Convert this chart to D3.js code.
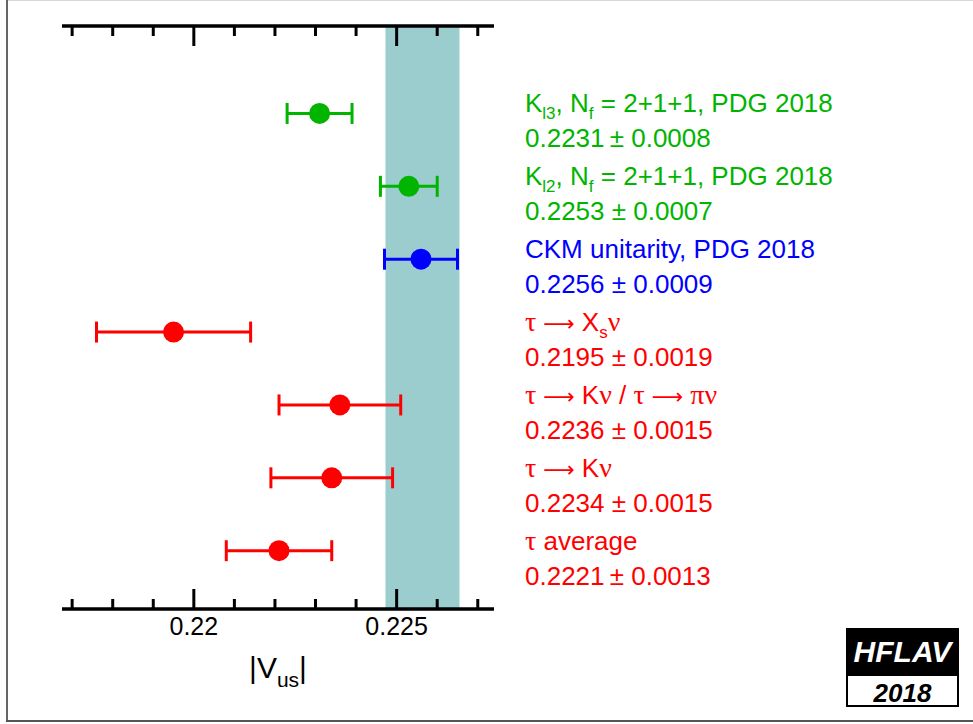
<!DOCTYPE html>
<html>
<head>
  <meta charset="utf-8">
  <script src="https://cdn.jsdelivr.net/npm/d3@7"></script>
  <style>
    body, html {
      margin: 0;
      padding: 0;
      background: white;
      overflow: hidden;
    }
    svg text {
      font-family: 'Liberation Sans', Arial, sans-serif;
    }
    .greek {
      font-family: 'Liberation Serif', 'Times New Roman', serif;
    }
    .arrow {
      font-family: 'DejaVu Sans', sans-serif;
    }
  </style>
</head>
<body>
  <svg id="chart" width="973" height="724"></svg>
  <script>
    // measurements, listed top to bottom
    const names = ["Kl3", "Kl2", "CKM", "tauXs", "tauKpi", "tauK", "tauAvg"];
    const values = [0.2231, 0.2253, 0.2256, 0.2195, 0.2236, 0.2234, 0.2221];
    const errors = [0.0008, 0.0007, 0.0009, 0.0019, 0.0015, 0.0015, 0.0013];
    const colors = ["#00b400", "#00b400", "#0000ff", "#ff0000", "#ff0000", "#ff0000", "#ff0000"];
    const valueText = [
      "0.2231\u2009\u00b1 0.0008",
      "0.2253 \u00b1 0.0007",
      "0.2256 \u00b1 0.0009",
      "0.2195 \u00b1 0.0019",
      "0.2236 \u00b1 0.0015",
      "0.2234 \u00b1 0.0015",
      "0.2221\u2009\u00b1 0.0013"
    ];
    // label pieces: [text, style] where style is "", "sub", "greek" or "arrow"
    const labelParts = [
      [["K", ""], ["l3", "sub"], [", N", ""], ["f", "sub"], [" = 2+1+1, PDG 2018", ""]],
      [["K", ""], ["l2", "sub"], [", N", ""], ["f", "sub"], [" = 2+1+1, PDG 2018", ""]],
      [["CKM unitarity, PDG 2018", ""]],
      [["\u03c4", "greek"], [" \u27f6 ", "arrow"], ["X", ""], ["s", "sub"], ["\u03bd", "greek"]],
      [["\u03c4", "greek"], [" \u27f6 ", "arrow"], ["K", ""], ["\u03bd", "greek"], [" / ", ""],
       ["\u03c4", "greek"], [" \u27f6 ", "arrow"], ["\u03c0\u03bd", "greek"]],
      [["\u03c4", "greek"], [" \u27f6 ", "arrow"], ["K", ""], ["\u03bd", "greek"]],
      [["\u03c4", "greek"], [" average", ""]]
    ];
    // reference band (CKM unitarity)
    const bandCenter = 0.2256;
    const bandError = 0.0009;
    const majorTicks = [0.22, 0.225];
    const minorTicks = d3.range(0.217, 0.2275, 0.001);

    const svg = d3.select("#chart");

    // frame
    svg.append("line").attr("x1", 8).attr("x2", 973).attr("y1", 0.5).attr("y2", 0.5)
      .attr("stroke", "#d8d8d8").attr("stroke-width", 1);
    svg.append("line").attr("x1", 7).attr("x2", 7).attr("y1", 0).attr("y2", 722)
      .attr("stroke", "#666").attr("stroke-width", 2);
    svg.append("line").attr("x1", 6).attr("x2", 973).attr("y1", 721).attr("y2", 721)
      .attr("stroke", "#555").attr("stroke-width", 2);

    const x = d3.scaleLinear().domain([0.21675, 0.2274]).range([62, 494]);
    const yTop = 26, yBottom = 609;
    const y = d3.scaleLinear().domain([7.2, -0.8]).range([yTop, yBottom]);
    const rowY = i => y(names.length - 1 - i);

    // band
    svg.append("rect")
      .attr("x", x(bandCenter - bandError) + 1)
      .attr("y", yTop)
      .attr("width", x(bandCenter + bandError) - x(bandCenter - bandError) + 1)
      .attr("height", yBottom - yTop)
      .attr("fill", "#9bcdcf");

    // axes (top and bottom)
    function drawAxis(yPos, dir) {
      const g = svg.append("g");
      g.append("line").attr("x1", x.range()[0]).attr("x2", x.range()[1])
        .attr("y1", yPos).attr("y2", yPos)
        .attr("stroke", "black").attr("stroke-width", 3.5);
      g.selectAll(".minor").data(minorTicks.filter(t => !majorTicks.some(m => Math.abs(m - t) < 1e-7)))
        .join("line")
        .attr("x1", d => x(d)).attr("x2", d => x(d))
        .attr("y1", yPos).attr("y2", yPos + dir * 10)
        .attr("stroke", "black").attr("stroke-width", 3);
      g.selectAll(".major").data(majorTicks)
        .join("line")
        .attr("x1", d => x(d)).attr("x2", d => x(d))
        .attr("y1", yPos).attr("y2", yPos + dir * 20)
        .attr("stroke", "black").attr("stroke-width", 3);
    }
    drawAxis(yTop, 1);
    drawAxis(yBottom, -1);

    svg.selectAll(".ticklabel").data(majorTicks)
      .join("text")
      .attr("x", d => x(d)).attr("y", 635)
      .attr("text-anchor", "middle")
      .attr("font-size", 25)
      .text(d => d3.format("")(d));

    const xt = svg.append("text").attr("x", 278).attr("y", 678)
      .attr("text-anchor", "middle").attr("font-size", 30);
    xt.append("tspan").text("|V");
    xt.append("tspan").attr("dy", 9).attr("font-size", 21).text("us");
    xt.append("tspan").attr("dy", -9).text("|");

    // error bars
    const pts = svg.selectAll(".pt").data(values)
      .join("g")
      .attr("transform", (d, i) => `translate(0, ${rowY(i)})`);
    pts.append("line")
      .attr("x1", (d, i) => x(d - errors[i])).attr("x2", (d, i) => x(d + errors[i]))
      .attr("stroke", (d, i) => colors[i]).attr("stroke-width", 3);
    pts.append("line")
      .attr("x1", (d, i) => x(d - errors[i])).attr("x2", (d, i) => x(d - errors[i]))
      .attr("y1", -10.5).attr("y2", 10.5)
      .attr("stroke", (d, i) => colors[i]).attr("stroke-width", 3);
    pts.append("line")
      .attr("x1", (d, i) => x(d + errors[i])).attr("x2", (d, i) => x(d + errors[i]))
      .attr("y1", -10.5).attr("y2", 10.5)
      .attr("stroke", (d, i) => colors[i]).attr("stroke-width", 3);
    pts.append("circle")
      .attr("cx", d => x(d)).attr("r", 10.5)
      .attr("fill", (d, i) => colors[i]);

    // labels
    labelParts.forEach((parts, i) => {
      const t = svg.append("text").attr("x", 525).attr("y", rowY(i) - 1)
        .attr("font-size", 26).attr("fill", colors[i]);
      let shifted = false;
      parts.forEach(([s, kind]) => {
        const ts = t.append("tspan").text(s);
        if (kind === "sub") {
          ts.attr("font-size", 17).attr("dy", 7);
          shifted = true;
        } else {
          if (shifted) { ts.attr("dy", -7); shifted = false; }
          if (kind === "greek") ts.attr("class", "greek").attr("font-size", 28);
          if (kind === "arrow") ts.attr("class", "arrow").attr("font-size", 22);
        }
      });
      svg.append("text").attr("x", 525).attr("y", rowY(i) + 34)
        .attr("font-size", 26).attr("fill", colors[i])
        .text(valueText[i]);
    });

    // HFLAV logo
    svg.append("rect").attr("x", 846).attr("y", 628).attr("width", 113).attr("height", 47)
      .attr("fill", "black");
    svg.append("rect").attr("x", 847).attr("y", 675).attr("width", 111).attr("height", 31)
      .attr("fill", "white").attr("stroke", "black").attr("stroke-width", 2);
    svg.append("text").attr("x", 902.5).attr("y", 662).attr("text-anchor", "middle")
      .attr("font-size", 30).attr("font-weight", "bold").attr("font-style", "italic")
      .attr("fill", "white").text("HFLAV");
    svg.append("text").attr("x", 902.5).attr("y", 702).attr("text-anchor", "middle")
      .attr("font-size", 26).attr("font-weight", "bold").attr("font-style", "italic")
      .attr("fill", "black").text("2018");
  </script>
</body>
</html>
